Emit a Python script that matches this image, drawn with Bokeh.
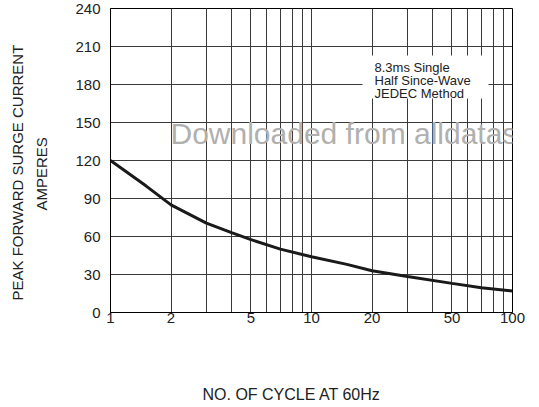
from bokeh.plotting import figure
from bokeh.models import FixedTicker, NumeralTickFormatter, Label, Title, LinearAxis
from bokeh.embed import file_html
from bokeh.resources import INLINE

# ---- data ----
cycles = [1, 1.5, 2, 3, 4, 5, 7, 10, 15, 20, 30, 50, 70, 100]
current = [120, 100, 85, 70.5, 63, 57.5, 50, 44, 38, 33, 28.5, 23, 19.5, 17]
x_tick_labels = [1, 2, 5, 10, 20, 50, 100]
x_grid = [1, 2, 3, 4, 5, 6, 7, 8, 9, 10, 20, 30, 40, 50, 60, 70, 80, 90, 100]
y_ticks = [0, 30, 60, 90, 120, 150, 180, 210, 240]
note_lines = ["8.3ms Single", "Half Since-Wave", "JEDEC Method"]
y_title = ["PEAK FORWARD SURGE CURRENT", "AMPERES"]
x_title = "NO. OF CYCLE AT 60Hz"
watermark = "Downloaded from alldatasheet.com"

FONT = "Liberation Sans"
W, H = 539, 407
LEFT, RIGHT, TOP, BOTTOM = 110, 27, 8, 95
FW, FH = W - LEFT - RIGHT, H - TOP - BOTTOM

p = figure(width=W, height=H, x_axis_type="log", x_range=(1, 100), y_range=(0, 240),
           min_border_left=LEFT, min_border_right=RIGHT, min_border_top=TOP,
           min_border_bottom=BOTTOM, output_backend="svg", toolbar_location=None)
p.background_fill_color = "white"
p.border_fill_color = "white"
p.outline_line_color = "black"
p.outline_line_width = 1

# helpers converting page pixels to data (for annotation placement only)
def px_to_x(px):
    return 10 ** ((px - LEFT) / FW * 2)

def py_to_y(py):
    return (TOP + FH - py) / FH * 240

# axes
p.xaxis.ticker = FixedTicker(ticks=x_tick_labels)
p.xaxis.formatter = NumeralTickFormatter(format="0")
p.yaxis.ticker = FixedTicker(ticks=y_ticks)
for ax in (p.xaxis[0], p.yaxis[0]):
    ax.major_tick_out = 0
    ax.major_tick_in = 0
    ax.minor_tick_out = 0
    ax.minor_tick_in = 0
    ax.axis_line_color = "black"
    ax.axis_line_width = 1
    ax.major_label_text_font = FONT
    ax.major_label_text_font_size = "15px"
    ax.major_label_text_color = "#222222"
p.xaxis.major_label_standoff = 0
p.yaxis.major_label_standoff = 10

def spacer(size, tick):
    # an axis with one invisible tick and no labels, used only to reserve space
    return LinearAxis(ticker=FixedTicker(ticks=[tick], minor_ticks=[]), axis_line_color=None,
                      major_tick_out=size, major_tick_in=0, minor_tick_out=0,
                      minor_tick_in=0, major_tick_line_color="white",
                      minor_tick_line_color=None, major_label_standoff=0,
                      major_label_text_color=None)

# grids
p.xgrid.ticker = FixedTicker(ticks=x_grid)
p.ygrid.ticker = FixedTicker(ticks=y_ticks)
for g in (p.xgrid[0], p.ygrid[0]):
    g.grid_line_color = "#3a3a3a"
    g.grid_line_width = 1
    g.grid_line_alpha = 1.0

# white box behind the note text
p.quad(left=[px_to_x(362)], right=[px_to_x(488)], top=[py_to_y(55)], bottom=[py_to_y(98)],
       fill_color="white", line_color=None)

# curve
p.line(cycles, current, line_color="#1a1a1a", line_width=3)

# note text
for txt, by in zip(note_lines, [66.5, 79.5, 93]):
    p.add_layout(Label(x=px_to_x(374), y=py_to_y(by), text=txt, text_font=FONT,
                       text_font_size="13px", text_color="#222222",
                       text_baseline="alphabetic", text_align="left"))

# watermark
p.add_layout(Label(x=px_to_x(170), y=py_to_y(133), text=watermark, text_font=FONT,
                   text_font_size="30px", text_color="#b0b0b0",
                   text_baseline="alphabetic", text_align="left"))

# axis titles
p.add_layout(spacer(22, 120), "left")
t_amp = Title(text=y_title[1], align="left", offset=102, standoff=2, text_font=FONT,
              text_font_size="15px", text_font_style="normal", text_color="#222222")
t_peak = Title(text=y_title[0], align="left", offset=12, standoff=7, text_font=FONT,
               text_font_size="15px", text_font_style="normal", text_color="#222222")
p.add_layout(t_amp, "left")
p.add_layout(t_peak, "left")

p.add_layout(spacer(57, 10), "below")
t_x = Title(text=x_title, align="left", offset=92, standoff=2, text_font=FONT,
            text_font_size="16px", text_font_style="normal", text_color="#222222")
p.add_layout(t_x, "below")

open("out.html", "w").write(file_html(p, INLINE))
